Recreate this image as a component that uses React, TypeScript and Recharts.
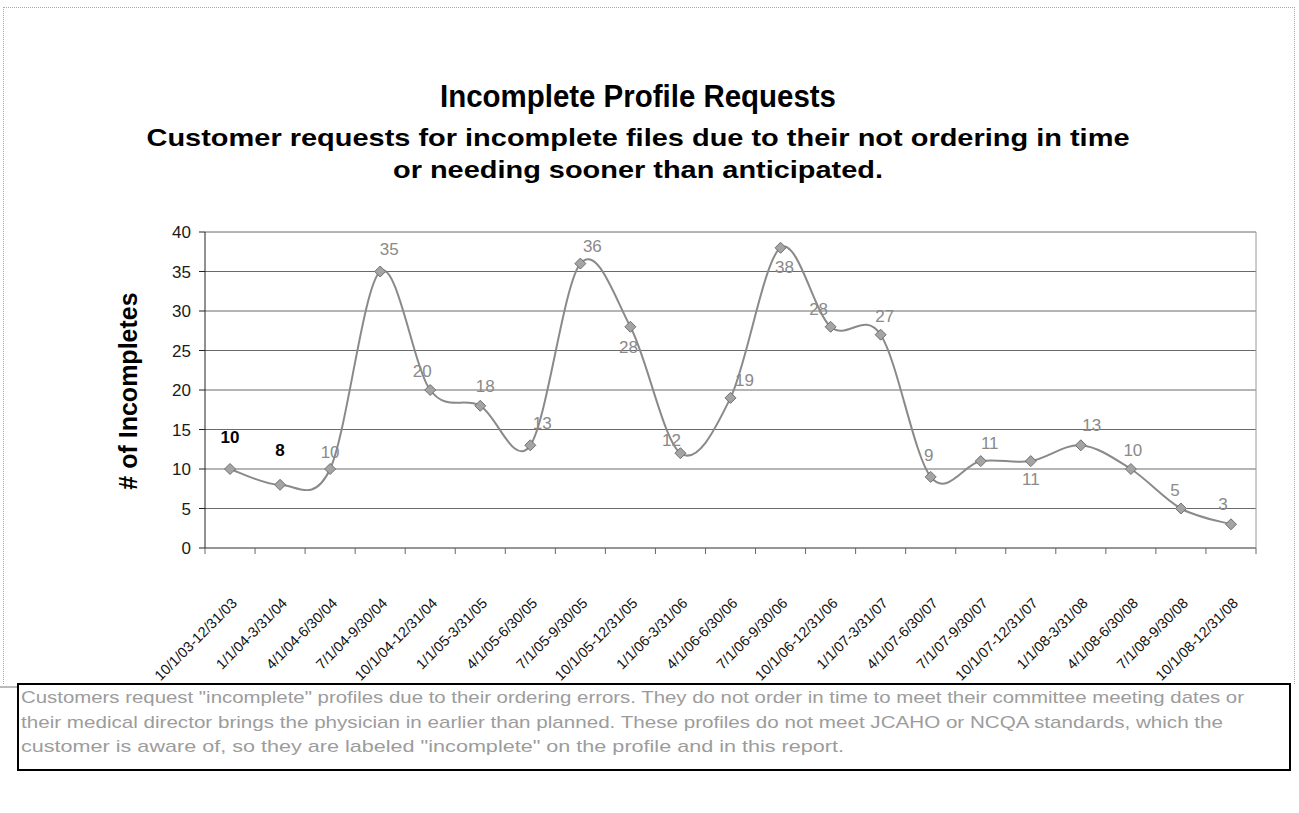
import React from "react";
import { LineChart, Line, XAxis, YAxis, CartesianGrid } from "recharts";

const periods = [
  "10/1/03-12/31/03",
  "1/1/04-3/31/04",
  "4/1/04-6/30/04",
  "7/1/04-9/30/04",
  "10/1/04-12/31/04",
  "1/1/05-3/31/05",
  "4/1/05-6/30/05",
  "7/1/05-9/30/05",
  "10/1/05-12/31/05",
  "1/1/06-3/31/06",
  "4/1/06-6/30/06",
  "7/1/06-9/30/06",
  "10/1/06-12/31/06",
  "1/1/07-3/31/07",
  "4/1/07-6/30/07",
  "7/1/07-9/30/07",
  "10/1/07-12/31/07",
  "1/1/08-3/31/08",
  "4/1/08-6/30/08",
  "7/1/08-9/30/08",
  "10/1/08-12/31/08",
];

const incompletes = [10, 8, 10, 35, 20, 18, 13, 36, 28, 12, 19, 38, 28, 27, 9, 11, 11, 13, 10, 5, 3];

const yTicks = [0, 5, 10, 15, 20, 25, 30, 35, 40];

const titleText = "Incomplete Profile Requests";
const subtitleLines = [
  "Customer requests for incomplete files due to their not ordering in time",
  "or needing sooner than anticipated.",
];
const yAxisTitle = "# of Incompletes";
const noteLines = [
  "Customers request \"incomplete\" profiles due to their ordering errors. They do not order in time to meet their committee meeting dates or",
  "their medical director brings the physician in earlier than planned. These profiles do not meet JCAHO or NCQA standards, which the",
  "customer is aware of, so they are labeled \"incomplete\" on the profile and in this report.",
];

// style only: text widths and label offsets
const subtitleWidths = [983, 490];
const noteWidths = [1223, 1202, 823];
const labelOffsets = [
  [0, -32], [0, -34], [0, -17], [9, -22], [-8, -19], [5, -19], [12, -22],
  [12, -17], [-2, 21], [-9, -13], [14, -17], [4, 20], [-12, -17], [4, -18],
  [-2, -21], [9, -18], [0, 18], [11, -20], [2, -19], [-6, -18], [-8, -20],
];
const boldLabelCount = 2;

const data = periods.map((p, i) => ({ period: p, value: incompletes[i] }));

const FONT = "'Liberation Sans', Arial, sans-serif";

// Excel-like smoothed line (Catmull-Rom through the points)
const smoothCurve = (context: any) => {
  let pts: number[][] = [];
  return {
    areaStart() {},
    areaEnd() {},
    lineStart() {
      pts = [];
    },
    point(x: number, y: number) {
      pts.push([+x, +y]);
    },
    lineEnd() {
      const n = pts.length;
      if (!n) return;
      context.moveTo(pts[0][0], pts[0][1]);
      for (let i = 0; i < n - 1; i++) {
        const p0 = pts[Math.max(i - 1, 0)];
        const p1 = pts[i];
        const p2 = pts[i + 1];
        const p3 = pts[Math.min(i + 2, n - 1)];
        const c1x = p1[0] + (p2[0] - p0[0]) / 6;
        const c1y = p1[1] + (p2[1] - p0[1]) / 6;
        const c2x = p2[0] - (p3[0] - p1[0]) / 6;
        const c2y = p2[1] - (p3[1] - p1[1]) / 6;
        context.bezierCurveTo(c1x, c1y, c2x, c2y, p2[0], p2[1]);
      }
    },
  };
};

const Diamond = (props: any) => {
  const { cx, cy } = props;
  if (cx == null || cy == null) return null;
  const r = 5.5;
  return (
    <polygon
      points={`${cx},${cy - r} ${cx + r},${cy} ${cx},${cy + r} ${cx - r},${cy}`}
      fill="#a4a4a4"
      stroke="#707070"
      strokeWidth={1}
    />
  );
};

const DataLabel = (props: any) => {
  const { x, y, value, index } = props;
  if (x == null || y == null) return null;
  const off = labelOffsets[index] || [0, -18];
  const bold = index < boldLabelCount;
  return (
    <text
      x={x + off[0]}
      y={y + off[1]}
      textAnchor="middle"
      dominantBaseline="central"
      fontFamily={FONT}
      fontSize={17}
      fontWeight={bold ? "bold" : "normal"}
      fill={bold ? "#000" : "#8a8a8a"}
    >
      {value}
    </text>
  );
};

const XTick = (props: any) => {
  const { x, y, payload, index, visibleTicksCount } = props;
  const half = payload && payload.offset ? payload.offset : 25;
  const last = index === (visibleTicksCount ?? periods.length) - 1;
  const ax = x + 8;
  const ay = y + 56;
  return (
    <g>
      <line x1={x - half} y1={y} x2={x - half} y2={y + 6} stroke="#666" />
      {last && <line x1={x + half} y1={y} x2={x + half} y2={y + 6} stroke="#666" />}
      <text
        x={ax}
        y={ay}
        textAnchor="end"
        transform={`rotate(-45, ${ax}, ${ay})`}
        fontFamily={FONT}
        fontSize={14.5}
        fill="#111"
      >
        {payload.value}
      </text>
    </g>
  );
};

export default function App() {
  return (
    <div style={{ position: "absolute", left: 0, top: 0, width: 1299, height: 813, background: "#fff" }}>
      <div
        style={{
          position: "absolute",
          left: 3,
          top: 7,
          width: 1290,
          height: 676,
          borderTop: "1px dotted #aaa",
          borderLeft: "1px dotted #aaa",
          borderRight: "1px dotted #aaa",
        }}
      />
      <div style={{ position: "absolute", left: 0, top: 0 }}>
        <LineChart width={1299} height={813} data={data} margin={{ top: 232, right: 42, left: 145, bottom: 165 }}>
          <CartesianGrid vertical={false} stroke="#6a6a6a" yAxisId="left" />
          <XAxis
            dataKey="period"
            scale="band"
            interval={0}
            height={100}
            tickLine={false}
            tickSize={0}
            tickMargin={0}
            axisLine={{ stroke: "#777" }}
            tick={<XTick />}
          />
          <YAxis
            yAxisId="left"
            domain={[0, 40]}
            ticks={yTicks}
            width={60}
            tickSize={6}
            tickMargin={8}
            axisLine={{ stroke: "#222" }}
            tickLine={{ stroke: "#222" }}
            tick={{ fill: "#1a1a1a", fontSize: 17, fontFamily: FONT }}
          />
          <YAxis
            yAxisId="right"
            orientation="right"
            domain={[0, 40]}
            width={1}
            tick={false}
            tickLine={false}
            axisLine={{ stroke: "#9a9a9a" }}
          />
          <Line
            yAxisId="left"
            dataKey="value"
            type={smoothCurve as any}
            stroke="#8a8a8a"
            strokeWidth={2}
            dot={<Diamond />}
            activeDot={false}
            label={<DataLabel />}
            isAnimationActive={false}
          />
        </LineChart>
      </div>
      <svg
        width={1299}
        height={813}
        style={{ position: "absolute", left: 0, top: 0, pointerEvents: "none" }}
      >
        <text
          x={638}
          y={107}
          textAnchor="middle"
          fontFamily={FONT}
          fontWeight="bold"
          fontSize={31}
          textLength={396}
          lengthAdjust="spacingAndGlyphs"
          fill="#000"
        >
          {titleText}
        </text>
        {subtitleLines.map((l, i) => (
          <text
            key={i}
            x={638}
            y={146 + i * 32}
            textAnchor="middle"
            fontFamily={FONT}
            fontWeight="bold"
            fontSize={24}
            textLength={subtitleWidths[i]}
            lengthAdjust="spacingAndGlyphs"
            fill="#000"
          >
            {l}
          </text>
        ))}
        <text
          x={137}
          y={391}
          textAnchor="middle"
          transform="rotate(-90, 137, 391)"
          fontFamily={FONT}
          fontWeight="bold"
          fontSize={25}
          fill="#000"
        >
          {yAxisTitle}
        </text>
        <line x1={0} y1={687} x2={17} y2={687} stroke="#777" />
        <rect x={18} y={684} width={1272} height={86} fill="#fff" stroke="#000" strokeWidth={2} />
        {noteLines.map((l, i) => (
          <text
            key={i}
            x={21}
            y={703 + i * 24.5}
            fontFamily={FONT}
            fontSize={17}
            textLength={noteWidths[i]}
            lengthAdjust="spacingAndGlyphs"
            fill="#9c9c9c"
          >
            {l}
          </text>
        ))}
      </svg>
    </div>
  );
}
